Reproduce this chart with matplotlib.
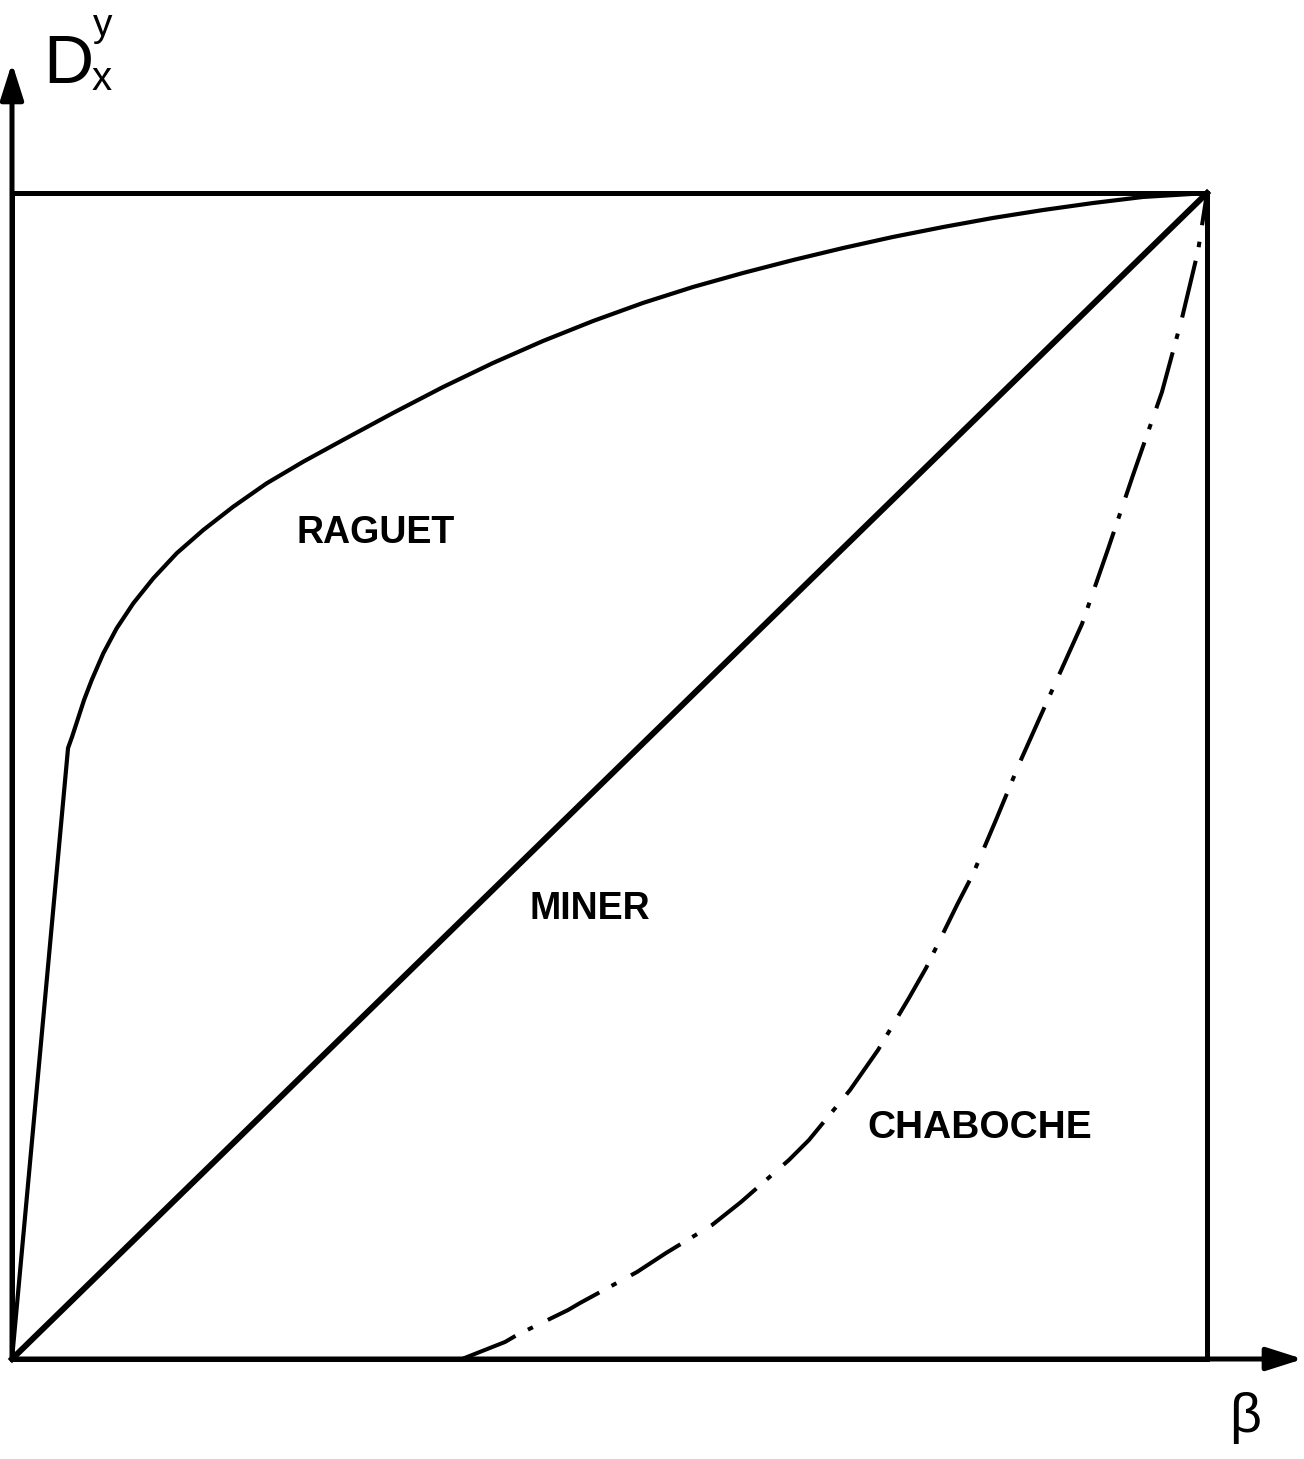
import matplotlib
matplotlib.use("Agg")
import matplotlib.pyplot as plt

plt.rcParams["font.family"] = ["Liberation Sans", "DejaVu Sans"]
plt.rcParams["lines.scale_dashes"] = False

# Curves, normalised: beta in [0, 1], damage in [0, 1]
raguet_x = [0.0, 0.0469, 0.0502, 0.0603, 0.0667, 0.0764, 0.0876, 0.1015, 0.1183,
            0.1378, 0.1601, 0.1852, 0.2131, 0.2438, 0.277, 0.3188, 0.3607, 0.4025,
            0.4444, 0.4862, 0.528, 0.5699, 0.6117, 0.6536, 0.6954, 0.7372, 0.7791,
            0.8209, 0.8628, 0.9046, 0.9464, 1.0]
raguet_y = [0.0, 0.524, 0.5334, 0.5652, 0.5823, 0.6052, 0.6267, 0.6481, 0.6696,
            0.691, 0.711, 0.731, 0.751, 0.7696, 0.7882, 0.8113, 0.8336, 0.8542,
            0.8731, 0.8902, 0.9057, 0.9194, 0.9314, 0.9425, 0.9528, 0.9623, 0.9708,
            0.9786, 0.9854, 0.9914, 0.9966, 1.0]

miner_x = [0.0, 1.0]
miner_y = [0.0, 1.0]

chaboche_x = [0.3766, 0.4126, 0.4226, 0.4653, 0.4753, 0.523, 0.5473, 0.5858, 0.61,
              0.6502, 0.6669, 0.7013, 0.7247, 0.7506, 0.7649, 0.7908, 0.8042, 0.8234,
              0.8435, 0.8686, 0.8954, 0.9172, 0.9381, 0.9623, 0.9791, 0.9925, 1.0]
chaboche_y = [0.0, 0.0146, 0.0206, 0.042, 0.048, 0.0746, 0.0909, 0.1149, 0.1346,
              0.1707, 0.1878, 0.2307, 0.265, 0.3096, 0.3353, 0.3894, 0.416, 0.4623,
              0.512, 0.5695, 0.6304, 0.6947, 0.7581, 0.8293, 0.8928, 0.9503, 1.0]

labels = ["RAGUET", "MINER", "CHABOCHE"]
label_x = [0.3046, 0.4837, 0.81]
label_y = [0.7084, 0.386, 0.198]

W, H = 1304, 1459
fig = plt.figure(figsize=(W / 100, H / 100), dpi=100)
ax = fig.add_axes([12 / W, (H - 1359) / H, 1195 / W, 1166 / H])
ax.set_xlim(0, 1)
ax.set_ylim(0, 1)
ax.set_xticks([])
ax.set_yticks([])
for s in ax.spines.values():
    s.set_linewidth(3.6)
    s.set_color("black")

ax.plot(raguet_x, raguet_y, color="black", lw=3.0, clip_on=False,
        solid_joinstyle="round")
ax.plot(miner_x, miner_y, color="black", lw=4.3, clip_on=False)
ax.plot(chaboche_x, chaboche_y, color="black", lw=2.9, clip_on=False,
        linestyle=(0, (42, 10, 4, 12)))

for t, x, y in zip(labels, label_x, label_y):
    ax.text(x, y, t, ha="center", va="center", fontsize=28 if t == "CHABOCHE" else 27,
            fontweight="bold")

# axis arrows
arrow = dict(arrowstyle="-|>,head_length=22,head_width=7", color="black",
             lw=3.6, shrinkA=0, shrinkB=0, mutation_scale=1)
ax.annotate("", xy=(0, 1.1115), xytext=(0, 0), xycoords="axes fraction",
            textcoords="axes fraction", arrowprops=arrow, annotation_clip=False)
ax.annotate("", xy=(1.0803, 0), xytext=(0, 0), xycoords="axes fraction",
            textcoords="axes fraction", arrowprops=arrow, annotation_clip=False)

# axis labels
fig.text(43 / W, 1 - 83 / H, "D", fontsize=50, ha="left", va="baseline",
         family=["Liberation Sans Narrow", "Liberation Sans"])
fig.text(93 / W, 1 - 36 / H, "y", fontsize=28, ha="left", va="baseline")
fig.text(92 / W, 1 - 90 / H, "x", fontsize=29, ha="left", va="baseline")
fig.text(1245 / W, 1 - 1418 / H, "β", fontsize=40, ha="center", va="center")

fig.savefig("out.png", dpi=100, facecolor="white")
